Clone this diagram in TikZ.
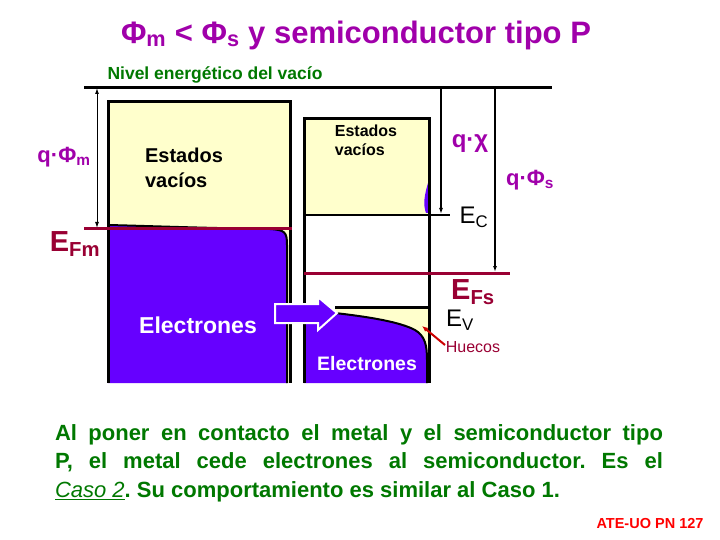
\documentclass[tikz,border=0pt]{standalone}
\usepackage{fontspec}
\setmainfont{Liberation Sans}
\begin{document}
\begin{tikzpicture}[x=1pt,y=-1pt,
 dim/.style={line width=1.5pt,-{Latex[length=6pt,width=4pt]}}]
\usetikzlibrary{arrows.meta}
\definecolor{elec}{RGB}{102,0,255}
\definecolor{empt}{RGB}{255,255,204}
\definecolor{fermi}{RGB}{153,0,51}
\definecolor{mag}{RGB}{160,0,170}
\definecolor{grn}{RGB}{0,120,0}
\useasboundingbox (0,0) rectangle (720,540);
% metal
\fill[empt] (108,102) rectangle (290,383);
\fill[elec] (108,225) .. controls (150,226) and (200,228) .. (270,229) .. controls (285,230) and (287,232) .. (287,245) -- (287,383) -- (108,383) -- cycle;
\draw[line width=2pt] (108,225) .. controls (150,226) and (200,228) .. (270,229) .. controls (285,230) and (287,232) .. (287,245) -- (287,383);
\draw[line width=3pt] (108,383) -- (108,102) -- (290,102) -- (290,383);
% semiconductor
\fill[empt] (304,119) rectangle (429,215);
\fill[elec] (429,180) .. controls (424,195) and (423,205) .. (426,213) -- (429,213) -- cycle;
\fill[empt] (335,307) rectangle (429,383);
\fill[elec] (335,313) .. controls (370,317) and (400,322) .. (415,330) .. controls (425,336) and (427,345) .. (427,360) -- (427,383) -- (304,383) -- (304,313) -- cycle;
\draw[line width=2pt] (335,313) .. controls (370,317) and (400,322) .. (415,330) .. controls (425,336) and (427,345) .. (427,360) -- (427,383);
\draw[line width=3pt] (304,383) -- (304,119) -- (429,119) -- (429,383);
\draw[line width=2pt] (304,215) -- (450,215);
\draw[line width=3pt] (335,307) -- (429,307);
% vacuum and Fermi lines
\draw[line width=3pt] (84,88) -- (552,88);
\draw[fermi,line width=3pt] (84,229) -- (292,229);
\draw[fermi,line width=3pt] (304,273) -- (510,273);
% dimension arrows
\draw[line width=1pt,{Latex[length=6pt,width=4pt]}-{Latex[length=6pt,width=4pt]}] (97,88) -- (97,228);
\draw[dim] (441,88) -- (441,214);
\draw[dim] (495,88) -- (495,272);
% hollow arrow
\draw[white,line width=2pt,fill=elec] (275,304) -- (318,304) -- (318,297) -- (337,313) -- (318,330) -- (318,323) -- (275,323) -- cycle;
% Huecos arrow
\draw[red!80!black,line width=2pt,-{Latex[length=6pt,width=5pt]}] (445,345) -- (422,326);
% texts
\node[inner sep=0pt,mag,font=\bfseries\fontsize{31}{34}\selectfont] (t) at (356,35) {Φ\textsubscript{m} < Φ\textsubscript{s} y semiconductor tipo P};
\node[inner sep=0pt,grn,font=\bfseries\fontsize{17.5}{20}\selectfont] (nv) at (215,75) {Nivel energético del vacío};
\node[inner sep=0pt,mag,font=\bfseries\fontsize{22}{24}\selectfont] (qm) at (64,157) {q·Φ\textsubscript{m}};
\node[inner sep=0pt,align=left,font=\bfseries\fontsize{20}{25}\selectfont] (ev1) at (184,168) {Estados\\vacíos};
\node[inner sep=0pt,align=left,font=\bfseries\fontsize{16}{19}\selectfont] (ev2) at (366,140) {Estados\\vacíos};
\node[inner sep=0pt,mag,font=\bfseries\fontsize{24}{26}\selectfont] (qx) at (470,144) {q·χ};
\node[inner sep=0pt,mag,font=\bfseries\fontsize{22}{24}\selectfont] (qs) at (530,180) {q·Φ\textsubscript{s}};
\node[inner sep=0pt,font=\fontsize{24}{26}\selectfont] (ec) at (474,217) {E\textsubscript{C}};
\node[inner sep=0pt,fermi,font=\bfseries\fontsize{29}{30}\selectfont] (efm) at (75,244) {E\textsubscript{Fm}};
\node[inner sep=0pt,fermi,font=\bfseries\fontsize{29}{30}\selectfont] (efs) at (473,292) {E\textsubscript{Fs}};
\node[inner sep=0pt,font=\fontsize{24}{26}\selectfont] (evv) at (460,320) {E\textsubscript{V}};
\node[inner sep=0pt,fermi,font=\fontsize{16}{18}\selectfont] (hu) at (473,347) {Huecos};
\node[inner sep=0pt,white,font=\bfseries\fontsize{23}{26}\selectfont] (el1) at (198,325) {Electrones};
\node[inner sep=0pt,white,font=\bfseries\fontsize{19.5}{22}\selectfont] (el2) at (367,364) {Electrones};
\node[inner sep=0pt,grn,text width=608pt,align=justify,font=\bfseries\fontsize{22}{28.5}\selectfont\frenchspacing] (par) at (359,463) {Al poner en contacto el metal y el semiconductor tipo\linebreak P, el metal cede electrones al semiconductor. Es el\linebreak \underline{\textit{\mdseries Caso 2}}. Su comportamiento es similar al Caso 1.};
\node[inner sep=0pt,red,font=\bfseries\fontsize{14.5}{16}\selectfont] (ate) at (650,524) {ATE-UO PN 127};
\end{tikzpicture}
\end{document}
